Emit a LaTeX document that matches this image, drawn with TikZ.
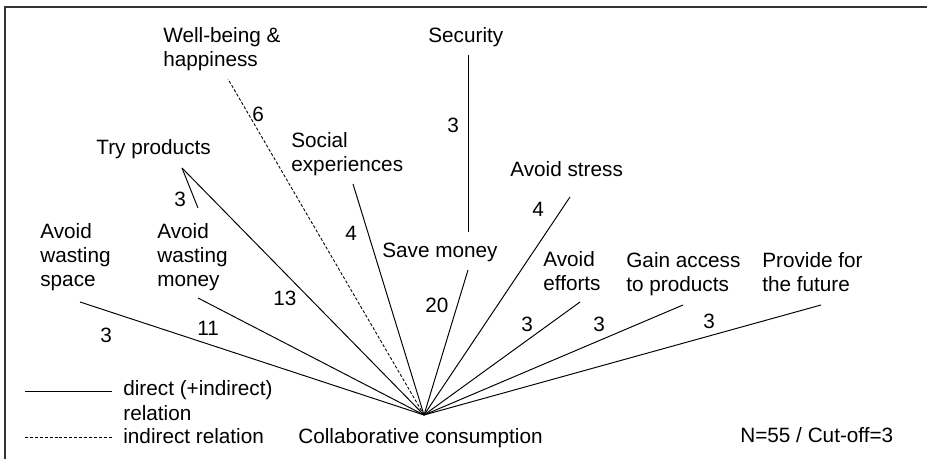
\documentclass[tikz,border=0pt]{standalone}
\usepackage{fontspec}
\setmainfont{Liberation Sans}
\usetikzlibrary{positioning}
\tikzset{
  % text (base = baseline of last line)
	cstlabel/.style ={inner sep=0pt, anchor=base west, align=left, font=\fontsize{11.8}{13.9}\selectfont},
	cstnum/.style   ={inner sep=0pt, anchor=base west, font=\fontsize{11.8}{13.9}\selectfont},
  % line
	cstline/.style  ={line width=0.55pt},
	cstdots/.style  ={line width=0.5pt, dash pattern=on 1.7pt off 1.1pt},
	cstframe/.style ={line width=1pt, draw=black!80}
}

\begin{document}
\begin{tikzpicture}[x=0.02cm,y=-0.02cm]
	\useasboundingbox (0,0) rectangle (927,459);
	\draw[cstframe] (5,459) -- (5,7) -- (927,7);
	% labels
	\node[cstlabel] (wellbeing) at (163,67)  {Well-being \&\\happiness};
	\node[cstlabel] (security)  at (428,43)  {Security};
	\node[cstlabel] (try)       at (96,155)  {Try products};
	\node[cstlabel] (social)    at (291,172) {Social\\experiences};
	\node[cstlabel] (stress)    at (510,177) {Avoid stress};
	\node[cstlabel] (space)     at (40,287)  {Avoid\\wasting\\space};
	\node[cstlabel] (money)     at (157,287) {Avoid\\wasting\\money};
	\node[cstlabel] (save)      at (382,258) {Save money};
	\node[cstlabel] (efforts)   at (543,291) {Avoid\\efforts};
	\node[cstlabel] (access)    at (626,292) {Gain access\\to products};
	\node[cstlabel] (future)    at (762,292) {Provide for\\the future};
	\node[cstlabel] (cc)        at (298,443) {Collaborative consumption};
	\node[cstlabel] (cutoff)    at (740,442) {N=55 / Cut-off=3};
	% line ends
	\coordinate (hub) at (424,415);
	\coordinate (e-space)   at (80,302);
	\coordinate (e-money)   at (198,298);
	\coordinate (e-try)     at (182,168);
	\coordinate (e-try2)    at (198,208);
	\coordinate (e-well)    at (228,79);
	\coordinate (e-social)  at (353,184);
	\coordinate (e-sec)     at (468,55);
	\coordinate (e-sec2)    at (468,232);
	\coordinate (e-save)    at (468,270);
	\coordinate (e-stress)  at (570,197);
	\coordinate (e-efforts) at (580,302);
	\coordinate (e-access)  at (683,305);
	\coordinate (e-future)  at (821,305);
	\foreach \p in {space,money,try,social,save,stress,efforts,access,future}
		\draw[cstline] (hub) -- (e-\p);
	\draw[cstline] (e-try) -- (e-try2);
	\draw[cstline] (e-sec) -- (e-sec2);
	\draw[cstdots] (hub) -- (e-well);
	% counts
	\node[cstnum] (n-well)    at (252,122) {6};
	\node[cstnum] (n-sec)     at (447,133) {3};
	\node[cstnum] (n-try)     at (174,207) {3};
	\node[cstnum] (n-social)  at (345,241) {4};
	\node[cstnum] (n-stress)  at (532,217) {4};
	\node[cstnum] (n-try2)    at (273,306) {13};
	\node[cstnum] (n-save)    at (425,313) {20};
	\node[cstnum] (n-money)   at (197,336) {11};
	\node[cstnum] (n-space)   at (100,343) {3};
	\node[cstnum] (n-efforts) at (521,332) {3};
	\node[cstnum] (n-access)  at (593,332) {3};
	\node[cstnum] (n-future)  at (703,329) {3};
	% legend
	\coordinate (l1a) at (25,391);
	\coordinate (l1b) at (112,391);
	\coordinate (l2a) at (25,437);
	\coordinate (l2b) at (112,437);
	\draw[cstline] (l1a) -- (l1b);
	\draw[cstdots] (l2a) -- (l2b);
	\node[cstlabel] (leg1) at (123,420) {direct (+indirect)\\relation};
	\node[cstlabel] (leg2) at (123,443) {indirect relation};
\end{tikzpicture}
\end{document}
